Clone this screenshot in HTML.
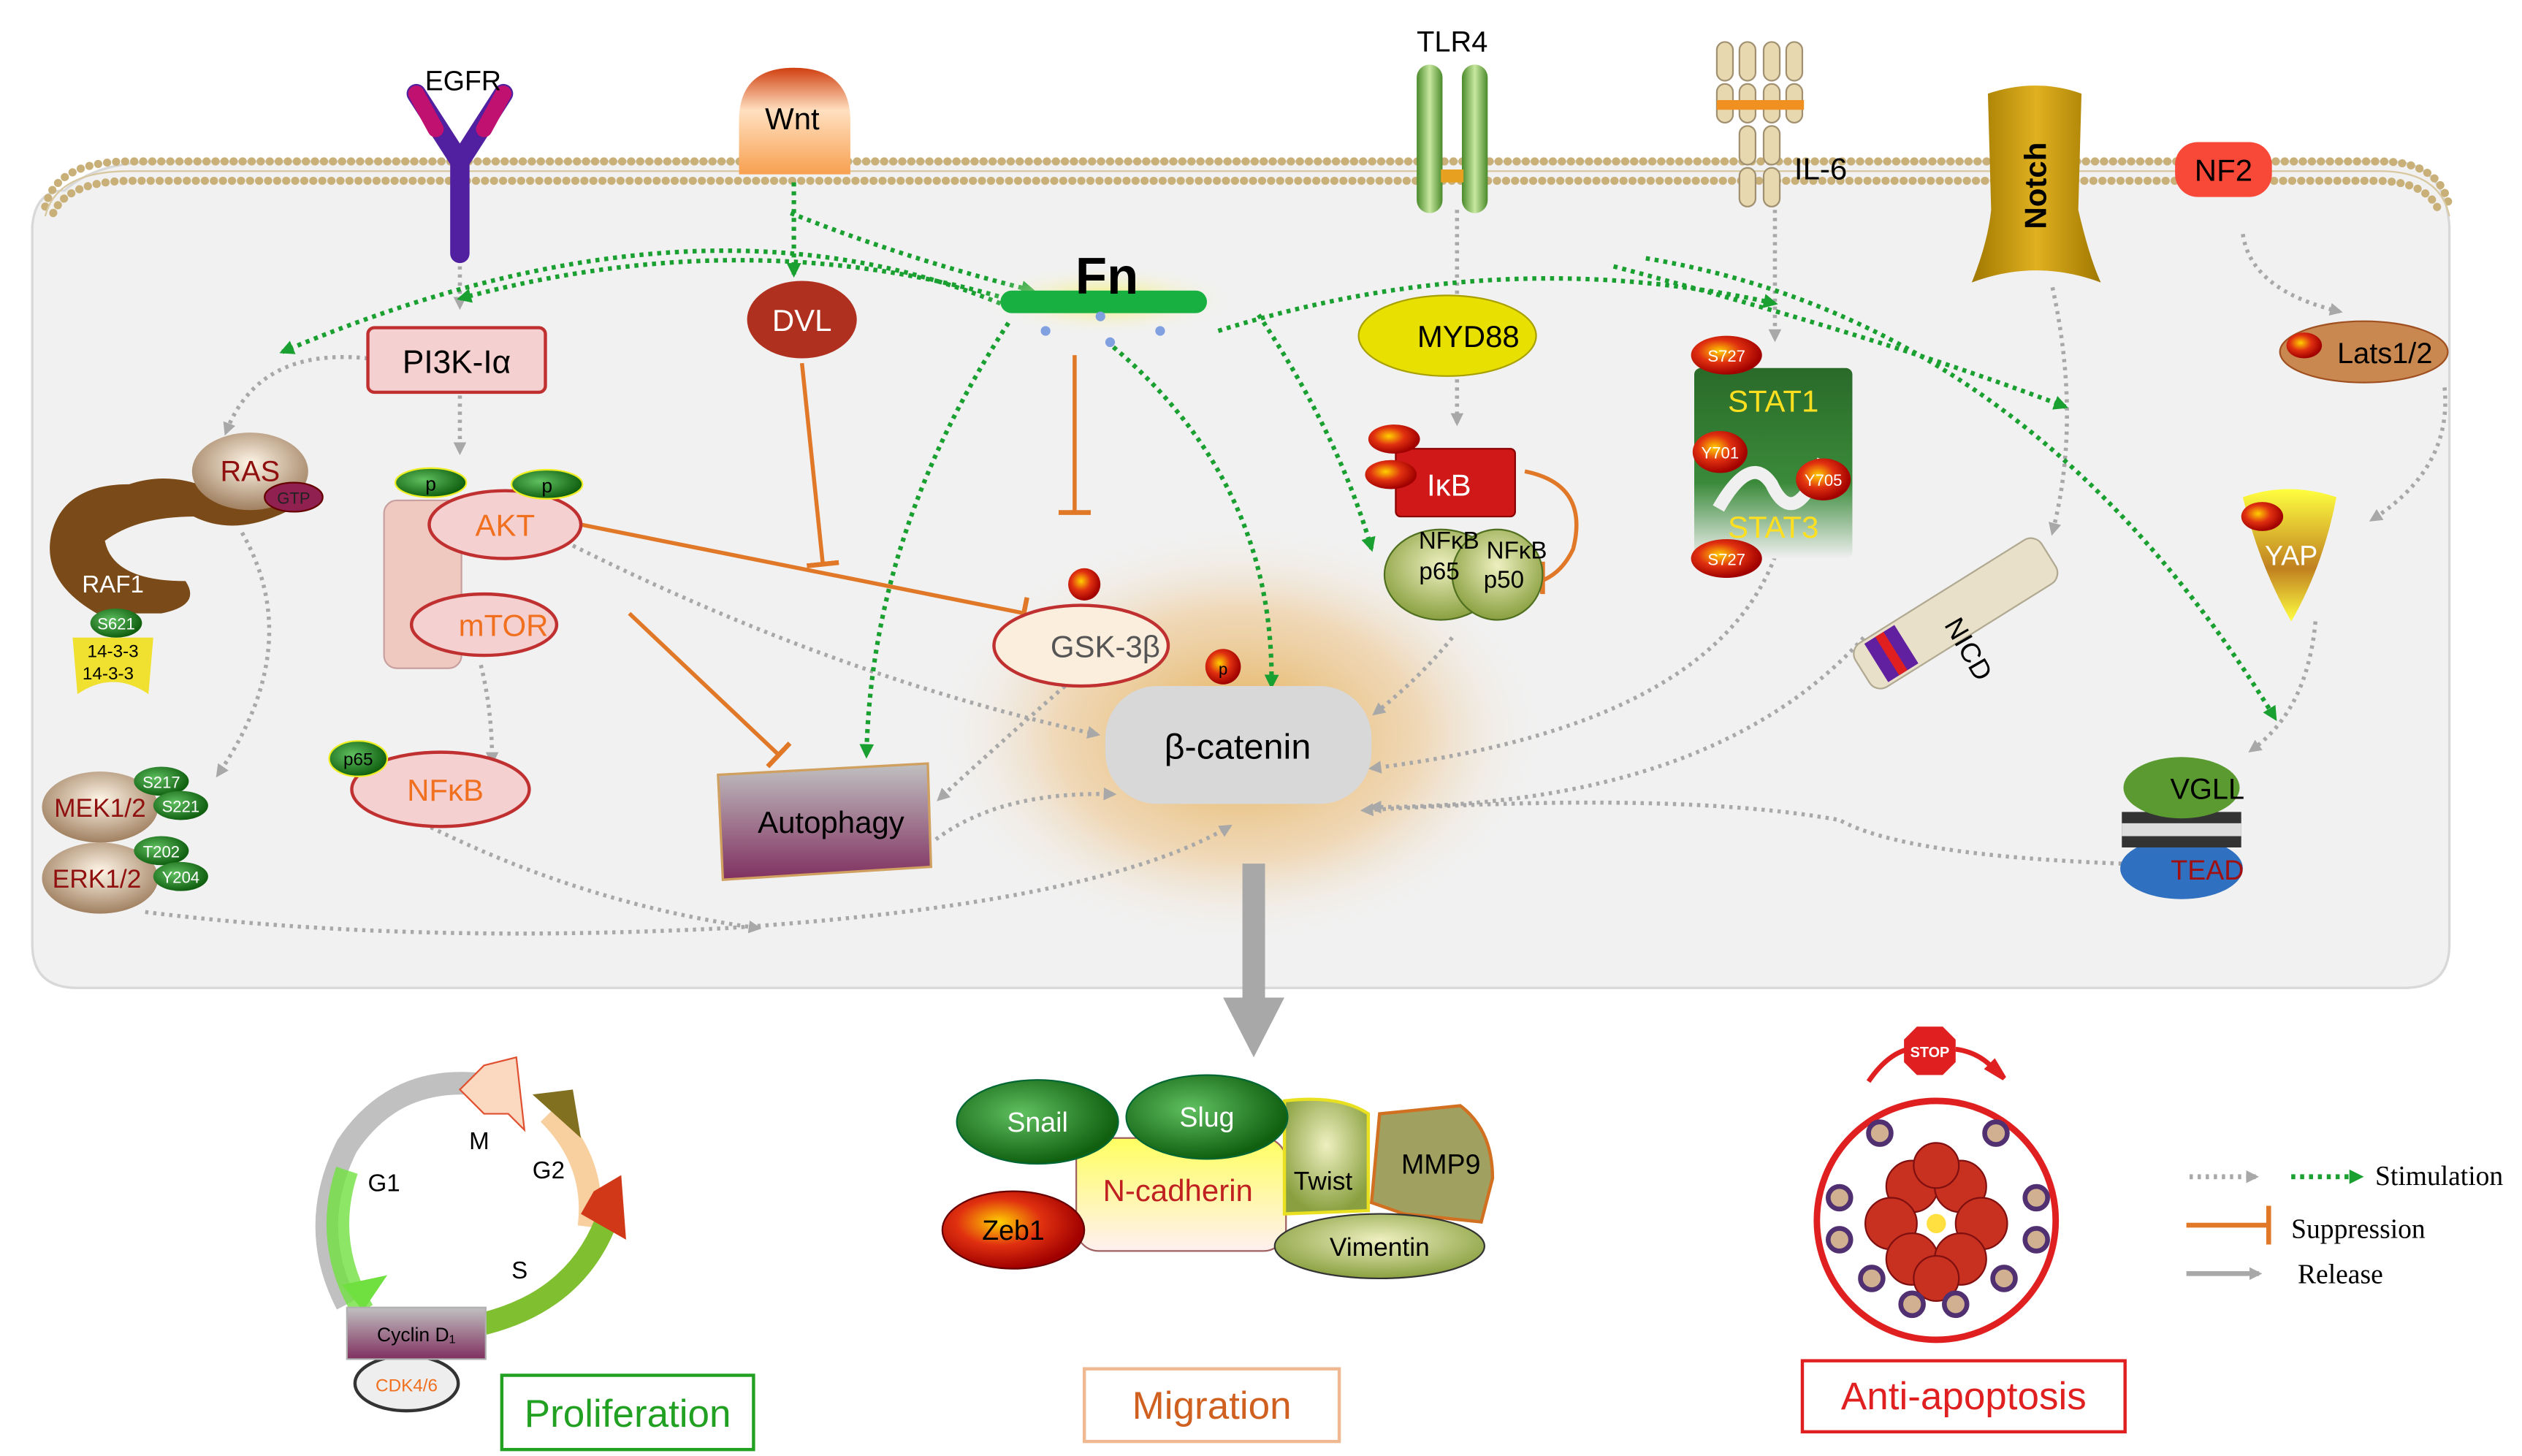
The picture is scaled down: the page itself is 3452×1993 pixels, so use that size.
<!DOCTYPE html>
<html><head><meta charset="utf-8"><style>
html,body{margin:0;padding:0;background:#fff;}
svg{display:block;}
text{font-family:"Liberation Sans","DejaVu Sans",sans-serif;}
text.serif{font-family:"Liberation Serif","DejaVu Serif",serif;}
</style></head><body>
<svg width="3452" height="1993" viewBox="0 0 1563 902" preserveAspectRatio="none" xmlns="http://www.w3.org/2000/svg">
<defs>
<radialGradient id="glow" cx="50%" cy="50%" r="50%"><stop offset="0" stop-color="#e0a030" stop-opacity=".85"/><stop offset="0.6" stop-color="#eec080" stop-opacity=".5"/><stop offset="1" stop-color="#f2f2f2" stop-opacity="0"/></radialGradient>
<radialGradient id="fnglow" cx="50%" cy="50%" r="50%"><stop offset="0" stop-color="#f4f060"/><stop offset="1" stop-color="#f2f2f2" stop-opacity="0"/></radialGradient>
<radialGradient id="redball" cx="40%" cy="40%" r="60%"><stop offset="0" stop-color="#ffd000"/><stop offset=".5" stop-color="#e03010"/><stop offset="1" stop-color="#a00000"/></radialGradient>
<radialGradient id="greenball" cx="40%" cy="40%" r="60%"><stop offset="0" stop-color="#60c060"/><stop offset="1" stop-color="#106010"/></radialGradient>
<radialGradient id="olive" cx="50%" cy="40%" r="60%"><stop offset="0" stop-color="#eef0c0"/><stop offset="1" stop-color="#8aa040"/></radialGradient>
<radialGradient id="tan" cx="50%" cy="40%" r="60%"><stop offset="0" stop-color="#fff6e8"/><stop offset="1" stop-color="#a08060"/></radialGradient>
<linearGradient id="auto" x1="0" y1="0" x2="0" y2="1"><stop offset="0" stop-color="#c0c0c0"/><stop offset="1" stop-color="#803060"/></linearGradient>
<linearGradient id="wnt" x1="0" y1="0" x2="0" y2="1"><stop offset="0" stop-color="#d04010"/><stop offset=".4" stop-color="#ffe0c0"/><stop offset="1" stop-color="#f8a050"/></linearGradient>
<linearGradient id="notch" x1="0" y1="0" x2="1" y2="0"><stop offset="0" stop-color="#a07800"/><stop offset=".5" stop-color="#e0b020"/><stop offset="1" stop-color="#a07800"/></linearGradient>
<linearGradient id="stat" x1="0" y1="0" x2="0" y2="1"><stop offset="0" stop-color="#2a6a2a"/><stop offset=".6" stop-color="#3a8a3a"/><stop offset="1" stop-color="#f0f0f0"/></linearGradient>
<linearGradient id="yap" x1="0" y1="0" x2="0" y2="1"><stop offset="0" stop-color="#ffff40"/><stop offset=".6" stop-color="#c08020"/><stop offset="1" stop-color="#ffff40"/></linearGradient>
<linearGradient id="ncad" x1="0" y1="0" x2="0" y2="1"><stop offset="0" stop-color="#ffff60"/><stop offset="1" stop-color="#fff0f0"/></linearGradient>
<linearGradient id="tlr" x1="0" y1="0" x2="1" y2="0"><stop offset="0" stop-color="#4a8a2a"/><stop offset=".5" stop-color="#c8e8a0"/><stop offset="1" stop-color="#4a8a2a"/></linearGradient>
<marker id="ag" markerWidth="8" markerHeight="8" refX="6" refY="4" orient="auto" markerUnits="userSpaceOnUse"><path d="M0,0 L8,4 L0,8z" fill="#a8a8a8"/></marker>
<marker id="agn" markerWidth="9" markerHeight="9" refX="7" refY="4.5" orient="auto" markerUnits="userSpaceOnUse"><path d="M0,0 L9,4.5 L0,9z" fill="#1aa030"/></marker>
<marker id="tb" markerWidth="4" markerHeight="20" refX="2" refY="10" orient="auto" markerUnits="userSpaceOnUse"><rect x="0" y="0" width="3" height="20" fill="#e07828"/></marker>
</defs>

<path d="M40,118 Q60,100 100,100 L1480,100 Q1515,100 1518,140 L1518,585 Q1518,612 1490,612 L48,612 Q20,612 20,585 L20,140 Q22,118 40,118z" fill="#f1f1f1" stroke="#d8d8d8" stroke-width="1.5"/>
<path d="M28,128 Q35,100 80,100 L1475,100 Q1512,100 1518,128" fill="none" stroke="#c8b078" stroke-width="5" stroke-dasharray="0.1 5.5" stroke-linecap="round"/>
<path d="M33,132 Q42,112 82,112 L1472,112 Q1505,112 1512,132" fill="none" stroke="#c8b078" stroke-width="5" stroke-dasharray="0.1 5.5" stroke-linecap="round"/>
<path d="M28,128 Q35,100 80,100 L1475,100 Q1512,100 1518,128" fill="none" stroke="#d8c8a0" stroke-width="1" transform="translate(0,6)"/>

<ellipse cx="768" cy="455" rx="190" ry="130" fill="url(#glow)"/>

<g fill="none" stroke="#a8a8a8" stroke-width="2.5" stroke-dasharray="2 3" marker-end="url(#ag)">
<path d="M228,222 Q160,215 140,268"/>
<path d="M285,160 L285,190"/>
<path d="M285,245 L285,280"/>
<path d="M150,330 Q190,400 135,480"/>
<path d="M298,412 Q305,440 305,472"/>
<path d="M355,338 Q520,420 680,455"/>
<path d="M903,130 L903,195"/>
<path d="M903,235 L903,262"/>
<path d="M1100,130 L1100,210"/>
<path d="M1390,145 Q1395,180 1450,193"/>
<path d="M1515,240 Q1520,290 1470,322"/>
<path d="M1435,385 Q1430,440 1395,465"/>
<path d="M1272,178 Q1290,260 1272,330"/>
<path d="M900,395 Q880,420 852,442"/>
<path d="M1100,345 Q1060,450 850,476"/>
<path d="M1155,395 Q1060,500 850,500"/>
<path d="M1315,535 Q1180,530 1140,508 Q1040,490 845,502"/>
<path d="M660,425 Q620,460 582,495"/>
<path d="M580,520 Q620,490 690,492"/>
<path d="M90,565 Q250,585 450,575 Q680,560 762,512"/>
<path d="M258,508 Q360,560 470,575"/>
<path d="M268,335 Q245,350 265,372"/>
</g>
<g fill="none" stroke="#1aa030" stroke-width="2.8" stroke-dasharray="2.5 3" marker-end="url(#agn)">
<path d="M492,113 L492,170"/>
<path d="M620,188 Q430,110 175,218"/>
<path d="M640,190 Q470,135 285,185"/>
<path d="M490,132 Q560,160 640,180"/>
<path d="M625,200 Q540,330 537,468"/>
<path d="M690,215 Q790,300 788,425"/>
<path d="M780,195 Q830,270 850,340"/>
<path d="M755,205 Q930,150 1100,188"/>
<path d="M1000,165 Q1170,210 1280,252"/>
<path d="M1020,160 Q1260,200 1410,445"/>
</g>
<g fill="none" stroke="#e07828" stroke-width="2.5" marker-end="url(#tb)">
<path d="M360,325 L635,380"/>
<path d="M497,225 L510,350"/>
<path d="M666,220 L666,318"/>
<path d="M390,380 L483,468"/>
</g>
<path d="M945,292 Q985,300 975,340 Q968,355 955,360" fill="none" stroke="#e07828" stroke-width="2.5"/>
<line x1="956" y1="348" x2="956" y2="368" stroke="#e07828" stroke-width="3"/>

<path d="M285,157 L285,100 M285,100 L258,58 M285,100 L312,58" stroke="#5020a0" stroke-width="12" fill="none" stroke-linecap="round"/>
<path d="M270,80 L258,58 M300,80 L312,58" stroke="#c01070" stroke-width="10" fill="none" stroke-linecap="round"/>
<text x="287" y="56" font-size="17" text-anchor="middle">EGFR</text>

<path d="M458,108 L458,75 Q458,42 492,42 Q527,42 527,75 L527,108z" fill="url(#wnt)"/>
<text x="491" y="80" font-size="19" text-anchor="middle">Wnt</text>

<rect x="878" y="40" width="16" height="92" rx="8" fill="url(#tlr)"/>
<rect x="906" y="40" width="16" height="92" rx="8" fill="url(#tlr)"/>
<rect x="893" y="105" width="14" height="8" fill="#e8a020"/>
<text x="900" y="32" font-size="18" text-anchor="middle">TLR4</text>

<g fill="#e8d8b0" stroke="#a09070" stroke-width="1">
<rect x="1064" y="26" width="10" height="24" rx="5"/><rect x="1078" y="26" width="10" height="24" rx="5"/><rect x="1093" y="26" width="10" height="24" rx="5"/><rect x="1107" y="26" width="10" height="24" rx="5"/>
<rect x="1064" y="52" width="10" height="24" rx="5"/><rect x="1078" y="52" width="10" height="24" rx="5"/><rect x="1093" y="52" width="10" height="24" rx="5"/><rect x="1107" y="52" width="10" height="24" rx="5"/>
<rect x="1078" y="78" width="10" height="24" rx="5"/><rect x="1093" y="78" width="10" height="24" rx="5"/>
<rect x="1078" y="104" width="10" height="24" rx="5"/><rect x="1093" y="104" width="10" height="24" rx="5"/>
</g>
<rect x="1064" y="62" width="54" height="6" fill="#f09020"/>
<text x="1112" y="111" font-size="19">IL-6</text>

<path d="M1232,58 Q1262,48 1290,58 L1288,130 Q1295,160 1302,175 Q1262,160 1222,175 Q1232,150 1234,130z" fill="url(#notch)"/>
<text x="1268" y="115" font-size="19" font-weight="bold" transform="rotate(-90 1268 115)" text-anchor="middle">Notch</text>

<rect x="1348" y="88" width="60" height="34" rx="14" fill="#f84838"/>
<text x="1378" y="112" font-size="19" text-anchor="middle">NF2</text>

<ellipse cx="1465" cy="218" rx="52" ry="19" fill="#c88850" stroke="#a05020"/>
<ellipse cx="1428" cy="214" rx="11" ry="8" fill="url(#redball)"/>
<text x="1478" y="225" font-size="18" text-anchor="middle">Lats1/2</text>

<path d="M1390,308 Q1418,298 1448,308 Q1440,350 1420,385 Q1400,350 1390,308z" fill="url(#yap)"/>
<ellipse cx="1402" cy="320" rx="13" ry="9" fill="url(#redball)"/>
<text x="1420" y="350" font-size="17" fill="#fff" text-anchor="middle">YAP</text>

<ellipse cx="1352" cy="538" rx="38" ry="19" fill="#3070c0"/>
<rect x="1315" y="503" width="74" height="22" fill="#333"/>
<rect x="1315" y="510" width="74" height="8" fill="#ddd"/>
<ellipse cx="1352" cy="488" rx="36" ry="19" fill="#5a9a30"/>
<text x="1368" y="495" font-size="18" text-anchor="middle">VGLL</text>
<text x="1368" y="545" font-size="17" fill="#a01010" text-anchor="middle">TEAD</text>

<ellipse cx="686" cy="186" rx="80" ry="22" fill="url(#fnglow)"/>
<rect x="620" y="180" width="128" height="14" rx="7" fill="#18b040"/>
<text x="686" y="182" font-size="32" font-weight="bold" text-anchor="middle">Fn</text>
<circle cx="648" cy="205" r="3" fill="#80a0e0"/><circle cx="682" cy="196" r="3" fill="#80a0e0"/><circle cx="688" cy="212" r="3" fill="#80a0e0"/><circle cx="719" cy="205" r="3" fill="#80a0e0"/>

<ellipse cx="497" cy="198" rx="34" ry="24" fill="#b03020"/>
<text x="497" y="205" font-size="19" fill="#fff" text-anchor="middle">DVL</text>

<rect x="228" y="203" width="110" height="40" rx="4" fill="#f4d0d0" stroke="#c03030" stroke-width="2"/>
<text x="283" y="231" font-size="20" text-anchor="middle">PI3K-Iα</text>

<path d="M80,300 Q40,300 32,330 Q25,360 60,380 L100,380 Q125,375 115,360 Q70,360 65,335 Q85,320 120,320 Q150,335 190,310 Q170,300 140,308 Q110,290 80,300z" fill="#7a4a18"/>
<ellipse cx="155" cy="292" rx="36" ry="24" fill="url(#tan)"/>
<text x="155" y="298" font-size="18" fill="#901010" text-anchor="middle">RAS</text>
<ellipse cx="182" cy="308" rx="18" ry="9" fill="#902050" stroke="#600"/>
<text x="182" y="312" font-size="10" text-anchor="middle" fill="#222">GTP</text>
<text x="70" y="367" font-size="15" fill="#fff" text-anchor="middle">RAF1</text>
<path d="M45,395 L95,395 L92,430 Q70,415 48,430z" fill="#f0e030"/>
<ellipse cx="72" cy="386" rx="16" ry="9" fill="url(#greenball)"/>
<text x="72" y="390" font-size="10" fill="#fff" text-anchor="middle">S621</text>
<text x="70" y="407" font-size="11" text-anchor="middle">14-3-3</text>
<text x="67" y="421" font-size="11" text-anchor="middle">14-3-3</text>

<rect x="238" y="310" width="48" height="104" rx="8" fill="#efc8c0" stroke="#c8a0a0"/>
<ellipse cx="313" cy="325" rx="47" ry="21" fill="#f4d0d0" stroke="#c03030" stroke-width="2"/>
<text x="313" y="332" font-size="19" fill="#f07020" text-anchor="middle">AKT</text>
<ellipse cx="300" cy="387" rx="45" ry="19" fill="#f4d0d0" stroke="#c03030" stroke-width="2"/>
<text x="312" y="394" font-size="19" fill="#f07020" text-anchor="middle">mTOR</text>
<ellipse cx="267" cy="299" rx="22" ry="9" fill="url(#greenball)" stroke="#ee2"/>
<text x="267" y="304" font-size="12" text-anchor="middle">p</text>
<ellipse cx="339" cy="300" rx="22" ry="9" fill="url(#greenball)" stroke="#ee2"/>
<text x="339" y="305" font-size="12" text-anchor="middle">p</text>

<ellipse cx="273" cy="489" rx="55" ry="23" fill="#f4d0d0" stroke="#c03030" stroke-width="2"/>
<text x="276" y="496" font-size="19" fill="#f07020" text-anchor="middle">NFκB</text>
<ellipse cx="222" cy="470" rx="18" ry="11" fill="url(#greenball)" stroke="#ee2"/>
<text x="222" y="474" font-size="11" text-anchor="middle">p65</text>

<ellipse cx="62" cy="500" rx="36" ry="22" fill="url(#tan)"/>
<text x="62" y="506" font-size="16" fill="#901010" text-anchor="middle">MEK1/2</text>
<ellipse cx="62" cy="544" rx="36" ry="22" fill="url(#tan)"/>
<text x="60" y="550" font-size="16" fill="#901010" text-anchor="middle">ERK1/2</text>
<g font-size="10" fill="#fff" text-anchor="middle">
<ellipse cx="100" cy="484" rx="17" ry="9" fill="url(#greenball)"/><text x="100" y="488">S217</text>
<ellipse cx="112" cy="499" rx="17" ry="9" fill="url(#greenball)"/><text x="112" y="503">S221</text>
<ellipse cx="100" cy="527" rx="17" ry="9" fill="url(#greenball)"/><text x="100" y="531">T202</text>
<ellipse cx="112" cy="543" rx="17" ry="9" fill="url(#greenball)"/><text x="112" y="547">Y204</text>
</g>

<path d="M445,480 L575,473 L577,537 L448,545z" fill="url(#auto)" stroke="#d0a060" stroke-width="1.5"/>
<text x="515" y="516" font-size="19" text-anchor="middle">Autophagy</text>

<ellipse cx="670" cy="400" rx="54" ry="25" fill="#fbeedd" stroke="#c03030" stroke-width="2"/>
<text x="685" y="407" font-size="19" fill="#555" text-anchor="middle">GSK-3β</text>
<circle cx="672" cy="362" r="10" fill="url(#redball)"/>
<circle cx="758" cy="413" r="11" fill="url(#redball)"/>
<text x="758" y="418" font-size="10" text-anchor="middle">p</text>

<rect x="685" y="425" width="165" height="73" rx="32" fill="#d8d8d8"/>
<text x="767" y="470" font-size="22" text-anchor="middle">β-catenin</text>

<ellipse cx="897" cy="208" rx="55" ry="25" fill="#e8e000" stroke="#a8a000"/>
<text x="910" y="215" font-size="19" text-anchor="middle">MYD88</text>

<ellipse cx="893" cy="356" rx="35" ry="28" fill="url(#olive)" stroke="#507020"/>
<ellipse cx="928" cy="356" rx="28" ry="28" fill="url(#olive)" stroke="#507020"/>
<rect x="865" y="278" width="74" height="42" rx="3" fill="#d01818" stroke="#800"/>
<text x="898" y="307" font-size="19" fill="#fff" text-anchor="middle">IκB</text>
<ellipse cx="864" cy="272" rx="16" ry="9" fill="url(#redball)"/>
<ellipse cx="862" cy="294" rx="16" ry="9" fill="url(#redball)"/>
<text x="898" y="340" font-size="15" text-anchor="middle">NFκB</text>
<text x="892" y="359" font-size="15" text-anchor="middle">p65</text>
<text x="940" y="346" font-size="15" text-anchor="middle">NFκB</text>
<text x="932" y="364" font-size="15" text-anchor="middle">p50</text>

<rect x="1050" y="228" width="98" height="118" rx="4" fill="url(#stat)"/>
<path d="M1065,315 Q1085,280 1098,300 Q1112,330 1130,285" fill="none" stroke="#f0f0f0" stroke-width="8"/>
<text x="1099" y="255" font-size="19" fill="#ffe020" text-anchor="middle">STAT1</text>
<text x="1099" y="333" font-size="19" fill="#ffe020" text-anchor="middle">STAT3</text>
<g font-size="10" fill="#fff" text-anchor="middle">
<ellipse cx="1070" cy="220" rx="22" ry="12" fill="url(#redball)"/><text x="1070" y="224">S727</text>
<ellipse cx="1066" cy="280" rx="17" ry="13" fill="url(#redball)"/><text x="1066" y="284">Y701</text>
<ellipse cx="1130" cy="297" rx="17" ry="13" fill="url(#redball)"/><text x="1130" y="301">Y705</text>
<ellipse cx="1070" cy="346" rx="22" ry="12" fill="url(#redball)"/><text x="1070" y="350">S727</text>
</g>

<g transform="translate(1212,380) rotate(-32)">
<rect x="-68" y="-16" width="136" height="32" rx="8" fill="#e8e0c8" stroke="#b0a890"/>
<rect x="-58" y="-14" width="22" height="28" fill="#6020a0"/>
<rect x="-50" y="-14" width="6" height="28" fill="#e02020"/>
</g>
<text x="1215" y="405" font-size="17" transform="rotate(60 1215 405)" text-anchor="middle">NICD</text>

<rect x="770" y="535" width="14" height="88" fill="#a8a8a8"/>
<path d="M758,618 L796,618 L777,655z" fill="#a8a8a8"/>

<path d="M215,808 Q190,760 215,710 Q245,665 300,672" fill="none" stroke="#c0c0c0" stroke-width="14"/>
<path d="M215,725 Q200,770 225,812" fill="none" stroke="#70e040" stroke-width="14" opacity=".8"/>
<path d="M225,812 L240,790 L212,796z" fill="#70e040"/>
<path d="M300,660 L320,655 L325,700 L315,690 L300,690 L285,675z" fill="#fbd8c0" stroke="#e05030"/>
<path d="M365,760 Q370,720 340,690" fill="none" stroke="#f8d0a0" stroke-width="14"/>
<path d="M330,678 L355,675 L360,705z" fill="#807020"/>
<path d="M300,820 Q360,805 378,750" fill="none" stroke="#80c030" stroke-width="14"/>
<path d="M360,752 L388,768 L385,728 L368,738z" fill="#d03818"/>
<text x="297" y="712" font-size="15" text-anchor="middle">M</text>
<text x="238" y="738" font-size="15" text-anchor="middle">G1</text>
<text x="340" y="730" font-size="15" text-anchor="middle">G2</text>
<text x="322" y="792" font-size="15" text-anchor="middle">S</text>
<ellipse cx="252" cy="857" rx="32" ry="17" fill="#eee" stroke="#333" stroke-width="2"/>
<text x="252" y="862" font-size="11" fill="#f07020" text-anchor="middle">CDK4/6</text>
<rect x="215" y="810" width="86" height="32" fill="url(#auto)" stroke="#b0b0b0"/>
<text x="258" y="831" font-size="12" text-anchor="middle">Cyclin D₁</text>
<rect x="311" y="852" width="156" height="46" fill="#fff" stroke="#22a022" stroke-width="2"/>
<text x="389" y="884" font-size="24" fill="#22a022" text-anchor="middle">Proliferation</text>

<rect x="667" y="705" width="130" height="70" rx="14" fill="url(#ncad)" stroke="#a06060"/>
<path d="M796,682 Q830,678 848,690 L848,750 L796,752z" fill="url(#olive)" stroke="#e8e020" stroke-width="2"/>
<path d="M855,690 L905,685 Q925,700 925,730 L918,757 L870,752 L850,745z" fill="#a0a060" stroke="#d07020" stroke-width="2"/>
<ellipse cx="855" cy="772" rx="65" ry="20" fill="url(#olive)" stroke="#333"/>
<ellipse cx="643" cy="695" rx="50" ry="26" fill="url(#greenball)" stroke="#063"/>
<ellipse cx="748" cy="692" rx="50" ry="26" fill="url(#greenball)" stroke="#063"/>
<ellipse cx="628" cy="762" rx="44" ry="24" fill="url(#redball)" stroke="#600"/>
<text x="643" y="701" font-size="17" fill="#fff" text-anchor="middle">Snail</text>
<text x="748" y="698" font-size="17" fill="#fff" text-anchor="middle">Slug</text>
<text x="628" y="768" font-size="17" text-anchor="middle">Zeb1</text>
<text x="730" y="744" font-size="19" fill="#c02020" text-anchor="middle">N-cadherin</text>
<text x="820" y="737" font-size="16" text-anchor="middle">Twist</text>
<text x="893" y="727" font-size="17" text-anchor="middle">MMP9</text>
<text x="855" y="778" font-size="16" text-anchor="middle">Vimentin</text>
<rect x="672" y="848" width="158" height="45" fill="#fff" stroke="#f0b890" stroke-width="2"/>
<text x="751" y="879" font-size="24" fill="#d06020" text-anchor="middle">Migration</text>

<path d="M1158,670 Q1175,645 1196,650 M1212,650 Q1228,652 1238,665" fill="none" stroke="#e02020" stroke-width="3"/>
<path d="M1232,662 L1242,668 L1236,658z" fill="#e02020" stroke="#e02020" stroke-width="3"/>
<polygon points="1188,636 1204,636 1212,644 1212,658 1204,666 1188,666 1180,658 1180,644" fill="#e02020"/>
<text x="1196" y="655" font-size="9" fill="#fff" text-anchor="middle" font-weight="bold">STOP</text>
<circle cx="1200" cy="756" r="74" fill="#fff" stroke="#e02020" stroke-width="4"/>
<g fill="#c83020" stroke="#801010">
<circle cx="1185" cy="735" r="16"/><circle cx="1215" cy="735" r="16"/><circle cx="1172" cy="758" r="16"/><circle cx="1228" cy="758" r="16"/><circle cx="1185" cy="780" r="16"/><circle cx="1215" cy="780" r="16"/><circle cx="1200" cy="722" r="14"/><circle cx="1200" cy="792" r="14"/>
</g>
<circle cx="1200" cy="758" r="6" fill="#ffe040"/>
<g fill="#d0b090" stroke="#503070" stroke-width="3">
<circle cx="1165" cy="702" r="7"/><circle cx="1237" cy="702" r="7"/><circle cx="1140" cy="742" r="7"/><circle cx="1262" cy="742" r="7"/><circle cx="1140" cy="768" r="7"/><circle cx="1262" cy="768" r="7"/><circle cx="1160" cy="792" r="7"/><circle cx="1242" cy="792" r="7"/><circle cx="1185" cy="808" r="7"/><circle cx="1212" cy="808" r="7"/>
</g>
<rect x="1117" y="843" width="200" height="44" fill="#fff" stroke="#e02020" stroke-width="2"/>
<text x="1217" y="873" font-size="24" fill="#e02020" text-anchor="middle">Anti-apoptosis</text>

<line x1="1357" y1="729" x2="1398" y2="729" stroke="#a8a8a8" stroke-width="3" stroke-dasharray="2 3" marker-end="url(#ag)"/>
<line x1="1420" y1="729" x2="1463" y2="729" stroke="#1aa030" stroke-width="3" stroke-dasharray="2.5 3" marker-end="url(#agn)"/>
<text class="serif" x="1472" y="734" font-size="17">Stimulation</text>
<line x1="1355" y1="759" x2="1405" y2="759" stroke="#e07828" stroke-width="3"/>
<line x1="1406" y1="747" x2="1406" y2="771" stroke="#e07828" stroke-width="3"/>
<text class="serif" x="1420" y="767" font-size="17">Suppression</text>
<line x1="1355" y1="789" x2="1400" y2="789" stroke="#a8a8a8" stroke-width="3" marker-end="url(#ag)"/>
<text class="serif" x="1424" y="795" font-size="17">Release</text>
</svg>
</body></html>
